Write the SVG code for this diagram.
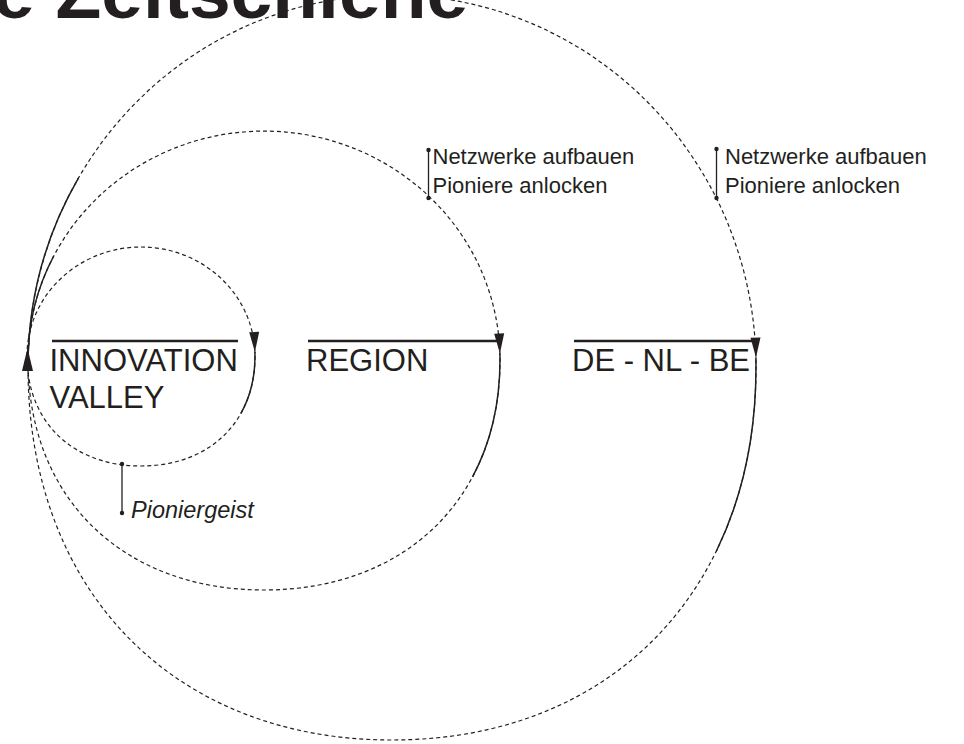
<svg xmlns="http://www.w3.org/2000/svg" width="964" height="744" viewBox="0 0 964 744">
<style>
text{font-family:"Liberation Sans",Arial,sans-serif;fill:#231f20}
.title{font-size:75px;font-weight:bold}
.node{font-size:31px}
.note{font-size:22px}
.note-i{font-size:23.5px;font-style:italic}
.bar{stroke:#231f20;stroke-width:2.6}
.dash{fill:none;stroke:#231f20;stroke-width:1.2;stroke-dasharray:4 3}
.solid{fill:none;stroke:#231f20;stroke-width:1.5}
.lead{stroke:#231f20;stroke-width:1.3}
.dot{fill:#231f20}
.ah{fill:#231f20}
</style>
<defs>
<path id="ah" d="M0,0 L-20,-5 L-20,5 Z"/>
<path id="ahL" d="M0,0 L-23,-5.5 L-23,5.5 Z"/>
</defs>
<rect width="964" height="744" fill="#fff"/>
<g id="title"><text class="title" x="-7" y="18">e Zeitschiene</text></g>

<g id="connectors">
<path class="dash" d="M27,356 A114,109 0 0 1 255,356 C255,422 209.4,466 141,466 C72.6,466 27,422 27,356 Z"/>
<path class="solid" d="M254.9,352 L255,356 C255,377.8 250.05,397.2 240.9,413.3"/>
<path class="dash" d="M28,360 A236,229 0 0 1 500,360 C500,498 405.6,590 264,590 C122.4,590 28,498 28,360 Z"/>
<path class="solid" d="M28,360 A236,229 0 0 1 53.7,256"/>
<path class="solid" d="M499.9,353.2 L500,360 C500,404.2 490.3,443.6 472.6,476.8"/>
<path class="dash" d="M28,367 A364,372 0 0 1 756,367 C756,590.8 610.4,740 392,740 C173.6,740 28,590.8 28,367 Z"/>
<path class="solid" d="M28,367 A364,372 0 0 1 78.4,178.2"/>
<path class="solid" d="M755.9,357.3 L756,367 C756,436.4 742,498.6 716.2,551.5"/>
<use href="#ah" class="ah" transform="translate(254.9,352) rotate(88)"/>
<use href="#ah" class="ah" transform="translate(499.9,353.5) rotate(88)"/>
<use href="#ah" class="ah" transform="translate(756,357.5) rotate(88.5)"/>
<use href="#ahL" class="ah" transform="translate(27.5,348) rotate(-90)"/>
</g>

<g id="node-innovation-valley">
<line class="bar" x1="52" y1="341" x2="238" y2="341"/>
<text class="node" x="49.5" y="371">INNOVATION</text>
<text class="node" x="49.5" y="408">VALLEY</text>
</g>
<g id="node-region">
<line class="bar" x1="308" y1="341" x2="497" y2="341"/>
<text class="node" x="306" y="371">REGION</text>
</g>
<g id="node-de-nl-be">
<line class="bar" x1="574" y1="341" x2="753" y2="341"/>
<text class="node" x="572" y="371">DE - NL - BE</text>
</g>

<g id="note-pioniergeist">
<line class="lead" x1="122" y1="464" x2="122" y2="513"/>
<circle class="dot" cx="122" cy="464" r="2.2"/>
<circle class="dot" cx="122" cy="513" r="2.2"/>
<text class="note-i" x="131" y="518">Pioniergeist</text>
</g>
<g id="note-region">
<line class="lead" x1="428.5" y1="150" x2="428.5" y2="198"/>
<circle class="dot" cx="428.5" cy="150" r="2.2"/>
<circle class="dot" cx="428.5" cy="198" r="2.2"/>
<text class="note" x="432.5" y="164">Netzwerke aufbauen</text>
<text class="note" x="432.5" y="193">Pioniere anlocken</text>
</g>
<g id="note-de-nl-be">
<line class="lead" x1="716.5" y1="149" x2="716.5" y2="198"/>
<circle class="dot" cx="716.5" cy="149" r="2.2"/>
<circle class="dot" cx="716.5" cy="198" r="2.2"/>
<text class="note" x="725" y="164">Netzwerke aufbauen</text>
<text class="note" x="725" y="193">Pioniere anlocken</text>
</g>
</svg>
